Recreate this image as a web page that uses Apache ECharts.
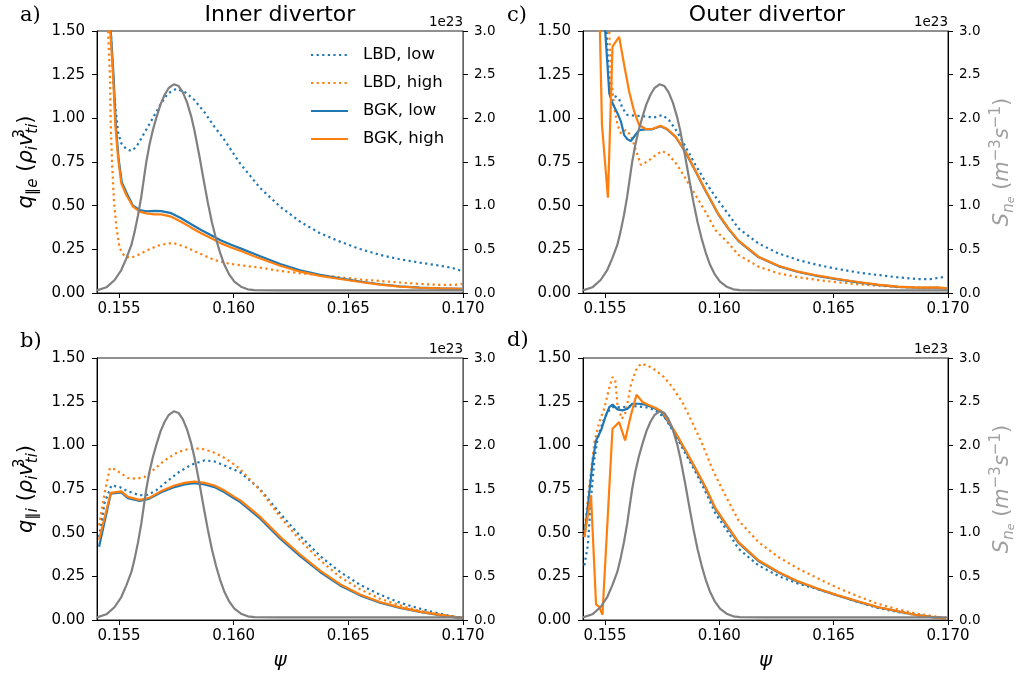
<!DOCTYPE html>
<html>
<head>
<meta charset="utf-8">
<script src="https://cdn.jsdelivr.net/npm/echarts@6/dist/echarts.min.js"></script>
<style>html,body{margin:0;padding:0;background:#fff}#chart{width:1018px;height:679px}</style>
</head>
<body>
<div id="chart"></div>
<script>
// ---------------- data (psi, value) ----------------
const psiRange = [0.15404, 0.170];
const psiTicks = [0.155, 0.160, 0.165, 0.170];
const seriesNames = ['LBD, low', 'LBD, high', 'BGK, low', 'BGK, high'];

// ionisation source S_ne in units of 1e23 m^-3 s^-1 (same in all panels)
const sneScaled = [[0.15404,0.03],[0.15445,0.065],[0.15481,0.149],[0.15510,0.263],[0.15532,0.397],[0.15554,0.55],[0.15568,0.70],[0.15583,0.89],[0.15597,1.10],[0.15609,1.32],[0.15619,1.50],[0.15633,1.70],[0.15648,1.87],[0.15662,2.00],[0.15681,2.16],[0.15699,2.27],[0.15716,2.345],[0.15739,2.39],[0.15760,2.37],[0.15778,2.30],[0.15797,2.18],[0.15815,2.02],[0.15829,1.86],[0.15851,1.56],[0.15870,1.28],[0.15887,1.04],[0.15905,0.81],[0.15923,0.62],[0.15942,0.45],[0.15960,0.32],[0.15981,0.21],[0.16003,0.13],[0.16032,0.072],[0.16061,0.042],[0.16090,0.032],[0.1620,0.03],[0.1700,0.03]];

// a) inner divertor, electron heat flux
const innerE_LBD_low = [[0.1543,2.3],[0.15464,1.50],[0.15470,1.34],[0.15478,1.15],[0.15486,1.04],[0.15496,0.92],[0.15510,0.857],[0.15532,0.824],[0.15554,0.813],[0.15576,0.838],[0.15597,0.885],[0.15626,0.952],[0.15655,1.019],[0.15684,1.086],[0.15713,1.143],[0.15749,1.168],[0.15786,1.152],[0.15829,1.105],[0.15873,1.034],[0.15916,0.952],[0.15960,0.876],[0.16003,0.79],[0.16029,0.74],[0.16075,0.666],[0.16116,0.60],[0.16203,0.494],[0.16290,0.408],[0.16377,0.342],[0.16464,0.294],[0.16551,0.252],[0.16638,0.218],[0.16725,0.193],[0.16812,0.174],[0.16899,0.156],[0.16950,0.145],[0.16995,0.126]];
const innerE_LBD_high = [[0.1542,2.3],[0.15452,1.50],[0.15460,1.25],[0.15464,0.96],[0.15470,0.733],[0.15478,0.523],[0.15489,0.370],[0.15503,0.256],[0.15525,0.208],[0.15554,0.202],[0.15583,0.218],[0.15626,0.246],[0.15670,0.271],[0.15713,0.284],[0.15742,0.284],[0.15786,0.265],[0.15829,0.240],[0.15873,0.214],[0.15916,0.189],[0.15974,0.170],[0.16032,0.158],[0.16116,0.145],[0.16203,0.126],[0.16290,0.113],[0.16377,0.102],[0.16464,0.090],[0.16551,0.078],[0.16638,0.069],[0.16725,0.060],[0.16812,0.052],[0.16899,0.046],[0.16960,0.046],[0.16995,0.052]];
const innerE_BGK_low = [[0.1543,2.3],[0.15464,1.50],[0.15476,1.248],[0.15486,0.962],[0.15498,0.771],[0.15512,0.635],[0.15534,0.57],[0.15561,0.50],[0.15590,0.475],[0.15619,0.468],[0.15655,0.470],[0.15684,0.469],[0.15728,0.457],[0.15771,0.428],[0.15815,0.394],[0.15858,0.361],[0.15902,0.331],[0.15945,0.301],[0.15989,0.276],[0.16032,0.254],[0.16075,0.232],[0.16116,0.210],[0.16203,0.166],[0.16290,0.130],[0.16377,0.104],[0.16464,0.084],[0.16551,0.066],[0.16638,0.050],[0.16725,0.038],[0.16812,0.031],[0.16899,0.026],[0.16995,0.024]];
const innerE_BGK_high = [[0.1543,2.3],[0.15462,1.50],[0.15474,1.248],[0.15484,0.962],[0.15496,0.771],[0.15510,0.628],[0.15532,0.561],[0.15561,0.494],[0.15590,0.466],[0.15619,0.456],[0.15655,0.450],[0.15684,0.450],[0.15728,0.437],[0.15771,0.408],[0.15815,0.374],[0.15858,0.342],[0.15902,0.313],[0.15945,0.284],[0.15989,0.261],[0.16032,0.240],[0.16075,0.218],[0.16116,0.198],[0.16203,0.156],[0.16290,0.122],[0.16377,0.098],[0.16464,0.080],[0.16551,0.063],[0.16638,0.048],[0.16725,0.037],[0.16812,0.030],[0.16899,0.026],[0.16995,0.024]];

// b) inner divertor, ion heat flux
const innerI_LBD_low = [[0.15413,0.475],[0.15438,0.675],[0.15467,0.771],[0.15503,0.761],[0.15539,0.737],[0.15590,0.714],[0.15626,0.717],[0.15662,0.742],[0.15706,0.790],[0.15757,0.843],[0.15815,0.889],[0.15873,0.914],[0.15916,0.908],[0.15960,0.884],[0.16003,0.86],[0.16029,0.845],[0.16060,0.81],[0.16116,0.748],[0.16203,0.609],[0.16290,0.481],[0.16377,0.366],[0.16464,0.275],[0.16551,0.202],[0.16638,0.145],[0.16725,0.099],[0.16812,0.065],[0.16899,0.036],[0.16995,0.011]];
const innerI_LBD_high = [[0.15413,0.542],[0.15438,0.731],[0.15460,0.870],[0.15481,0.863],[0.15510,0.838],[0.15539,0.813],[0.15576,0.809],[0.15612,0.819],[0.15648,0.857],[0.15699,0.914],[0.15757,0.962],[0.15807,0.981],[0.15858,0.981],[0.15909,0.962],[0.15960,0.928],[0.16003,0.89],[0.16029,0.862],[0.16060,0.82],[0.16116,0.742],[0.16203,0.590],[0.16290,0.456],[0.16377,0.342],[0.16464,0.246],[0.16551,0.176],[0.16638,0.122],[0.16725,0.084],[0.16812,0.052],[0.16899,0.031],[0.16995,0.011]];
const innerI_BGK_low = [[0.15413,0.42],[0.15464,0.723],[0.15510,0.731],[0.15539,0.698],[0.15590,0.681],[0.15633,0.695],[0.15684,0.731],[0.15742,0.761],[0.15786,0.776],[0.15829,0.784],[0.15873,0.776],[0.15916,0.761],[0.15960,0.731],[0.16003,0.695],[0.16029,0.675],[0.16116,0.580],[0.16203,0.466],[0.16290,0.366],[0.16377,0.275],[0.16464,0.198],[0.16551,0.141],[0.16638,0.099],[0.16725,0.069],[0.16812,0.046],[0.16899,0.027],[0.16995,0.011]];
const innerI_BGK_high = [[0.15413,0.46],[0.15464,0.728],[0.15510,0.736],[0.15539,0.705],[0.15590,0.688],[0.15633,0.700],[0.15684,0.738],[0.15742,0.770],[0.15786,0.785],[0.15829,0.792],[0.15873,0.785],[0.15916,0.770],[0.15960,0.741],[0.16003,0.705],[0.16029,0.685],[0.16116,0.590],[0.16203,0.476],[0.16290,0.375],[0.16377,0.283],[0.16464,0.205],[0.16551,0.146],[0.16638,0.103],[0.16725,0.072],[0.16812,0.048],[0.16899,0.029],[0.16995,0.012]];

// c) outer divertor, electron heat flux
const outerE_LBD_low = [[0.15500,2.2],[0.15507,1.50],[0.15516,1.248],[0.15526,1.133],[0.15548,1.124],[0.15562,1.110],[0.15577,1.057],[0.15598,1.019],[0.15635,1.015],[0.15678,1.011],[0.15714,1.004],[0.15751,1.019],[0.15780,0.990],[0.15816,0.923],[0.15852,0.838],[0.15896,0.733],[0.15939,0.637],[0.15983,0.551],[0.16040,0.45],[0.16084,0.370],[0.16171,0.284],[0.16258,0.227],[0.16345,0.189],[0.16432,0.160],[0.16519,0.137],[0.16606,0.118],[0.16693,0.103],[0.16780,0.090],[0.16867,0.080],[0.16924,0.080],[0.16990,0.093]];
const outerE_LBD_high = [[0.15512,2.2],[0.15519,1.487],[0.15526,1.248],[0.15541,1.057],[0.15555,0.962],[0.15570,0.914],[0.15591,0.933],[0.15613,0.904],[0.15635,0.819],[0.15657,0.733],[0.15685,0.752],[0.15722,0.790],[0.15751,0.813],[0.15780,0.790],[0.15816,0.733],[0.15852,0.656],[0.15896,0.561],[0.15939,0.466],[0.15983,0.36],[0.16040,0.285],[0.16084,0.218],[0.16171,0.151],[0.16258,0.113],[0.16345,0.090],[0.16432,0.074],[0.16519,0.061],[0.16606,0.050],[0.16693,0.042],[0.16780,0.034],[0.16867,0.031],[0.16990,0.027]];
const outerE_BGK_low = [[0.15490,2.4],[0.15501,1.50],[0.15512,1.286],[0.15519,1.143],[0.15533,1.086],[0.15555,1.028],[0.15570,0.981],[0.15584,0.904],[0.15598,0.881],[0.15613,0.870],[0.15628,0.896],[0.15649,0.933],[0.15678,0.937],[0.15707,0.937],[0.15743,0.955],[0.15772,0.937],[0.15809,0.893],[0.15852,0.806],[0.15896,0.697],[0.15939,0.587],[0.15968,0.517],[0.15997,0.447],[0.16040,0.367],[0.16084,0.297],[0.16171,0.206],[0.16258,0.154],[0.16345,0.120],[0.16432,0.097],[0.16519,0.078],[0.16606,0.061],[0.16693,0.046],[0.16780,0.035],[0.16867,0.030],[0.16954,0.030],[0.16995,0.026]];
const outerE_BGK_high = [[0.15470,2.6],[0.15478,1.50],[0.15487,0.962],[0.15513,0.546],[0.15533,1.410],[0.15562,1.467],[0.15584,1.305],[0.15606,1.152],[0.15628,1.038],[0.15649,0.962],[0.15678,0.939],[0.15707,0.939],[0.15743,0.958],[0.15772,0.939],[0.15809,0.895],[0.15852,0.81],[0.15896,0.70],[0.15939,0.59],[0.15968,0.52],[0.15997,0.45],[0.16040,0.37],[0.16084,0.30],[0.16171,0.208],[0.16258,0.156],[0.16345,0.122],[0.16432,0.099],[0.16519,0.080],[0.16606,0.063],[0.16693,0.048],[0.16780,0.036],[0.16867,0.031],[0.16954,0.032],[0.16995,0.027]];

// d) outer divertor, ion heat flux
const outerI_LBD_low = [[0.15410,0.313],[0.15425,0.427],[0.15439,0.694],[0.15454,0.923],[0.15468,1.038],[0.15490,1.133],[0.15512,1.191],[0.15533,1.219],[0.15577,1.219],[0.15620,1.225],[0.15678,1.219],[0.15722,1.200],[0.15765,1.152],[0.15809,1.057],[0.15852,0.952],[0.15896,0.847],[0.15939,0.735],[0.15983,0.61],[0.16040,0.50],[0.16084,0.408],[0.16171,0.313],[0.16258,0.252],[0.16345,0.208],[0.16432,0.176],[0.16519,0.141],[0.16606,0.103],[0.16693,0.069],[0.16780,0.046],[0.16867,0.027],[0.16990,0.008]];
const outerI_LBD_high = [[0.15410,0.504],[0.15432,0.771],[0.15454,1.019],[0.15475,1.133],[0.15497,1.210],[0.15516,1.315],[0.15533,1.391],[0.15545,1.372],[0.15555,1.229],[0.15574,1.152],[0.15591,1.191],[0.15613,1.343],[0.15635,1.429],[0.15657,1.467],[0.15685,1.458],[0.15722,1.429],[0.15758,1.391],[0.15794,1.334],[0.15838,1.248],[0.15881,1.133],[0.15925,1.009],[0.15968,0.87],[0.15997,0.79],[0.16040,0.68],[0.16084,0.57],[0.16171,0.446],[0.16258,0.361],[0.16345,0.294],[0.16432,0.237],[0.16519,0.183],[0.16606,0.136],[0.16693,0.093],[0.16780,0.061],[0.16867,0.036],[0.16990,0.011]];
const outerI_BGK_low = [[0.15410,0.475],[0.15432,0.733],[0.15446,0.904],[0.15461,1.028],[0.15483,1.086],[0.15504,1.171],[0.15519,1.219],[0.15533,1.233],[0.15555,1.206],[0.15577,1.200],[0.15599,1.21],[0.15620,1.238],[0.15649,1.238],[0.15678,1.233],[0.15714,1.214],[0.15743,1.197],[0.15772,1.143],[0.15809,1.067],[0.15852,0.968],[0.15896,0.863],[0.15939,0.758],[0.15983,0.635],[0.16040,0.525],[0.16084,0.441],[0.16171,0.338],[0.16258,0.272],[0.16345,0.218],[0.16432,0.177],[0.16519,0.139],[0.16606,0.105],[0.16693,0.073],[0.16780,0.049],[0.16867,0.027],[0.16990,0.008]];
const outerI_BGK_high = [[0.15410,0.475],[0.15425,0.599],[0.15439,0.714],[0.15461,0.09],[0.15475,0.075],[0.15489,0.03],[0.15533,1.095],[0.15562,1.133],[0.15588,1.028],[0.15613,1.171],[0.15638,1.290],[0.15664,1.248],[0.15693,1.229],[0.15722,1.214],[0.15751,1.191],[0.15772,1.15],[0.15809,1.072],[0.15852,0.973],[0.15896,0.868],[0.15939,0.763],[0.15983,0.64],[0.16040,0.53],[0.16084,0.446],[0.16171,0.342],[0.16258,0.275],[0.16345,0.221],[0.16432,0.179],[0.16519,0.141],[0.16606,0.107],[0.16693,0.074],[0.16780,0.050],[0.16867,0.027],[0.16990,0.008]];

// ---------------- layout / style ----------------
const F = 'DejaVu Sans';
const BLUE = '#1f77b4', ORANGE = '#ff7f0e', GREY = '#808080';
const DOT = [2.2, 3.4];

function mathRich(color) {
  return {
    n:   {fontSize: 21, fontFamily: F, color, lineHeight: 28},
    it:  {fontSize: 21, fontFamily: F, fontStyle: 'italic', color, lineHeight: 28},
    sub: {fontSize: 15, fontFamily: F, fontStyle: 'italic', color, lineHeight: 16, verticalAlign: 'bottom'},
    subn:{fontSize: 15, fontFamily: F, color, lineHeight: 16, verticalAlign: 'bottom'},
    sub2:{fontSize: 11, fontFamily: F, fontStyle: 'italic', color, lineHeight: 9, verticalAlign: 'bottom'},
    sup0:{fontSize: 15, fontFamily: F, color, lineHeight: 16, verticalAlign: 'top', width: 0},
    sup: {fontSize: 15, fontFamily: F, color, lineHeight: 16, verticalAlign: 'top'}
  };
}
const qeName = '{it|q}{subn|∥}{sub|e}{n| (}{it|ρ}{sub|i}{it|v}{sup0|3}{sub|ti}{n|)}';
const qiName = '{it|q}{subn|∥}{sub|i}{n| (}{it|ρ}{sub|i}{it|v}{sup0|3}{sub|ti}{n|)}';
const sName  = '{it|S}{sub|n}{sub2|e}{n| (}{it|m}{sup|−3}{it|s}{sup|−1}{n|)}';

const panels = [
  {grid: {left: 97, top: 31, width: 366, height: 262}, data: [innerE_LBD_low, innerE_LBD_high, innerE_BGK_low, innerE_BGK_high], yName: qeName, xName: false, sLabel: false, rightColor: '#666'},
  {grid: {left: 97, top: 358, width: 366, height: 262}, data: [innerI_LBD_low, innerI_LBD_high, innerI_BGK_low, innerI_BGK_high], yName: qiName, xName: true, sLabel: false, rightColor: '#666'},
  {grid: {left: 583, top: 31, width: 368, height: 262}, data: [outerE_LBD_low, outerE_LBD_high, outerE_BGK_low, outerE_BGK_high], yName: '', xName: false, sLabel: true, rightColor: '#000'},
  {grid: {left: 583, top: 358, width: 368, height: 262}, data: [outerI_LBD_low, outerI_LBD_high, outerI_BGK_low, outerI_BGK_high], yName: '', xName: true, sLabel: true, rightColor: '#000'}
];

const grid = [], xAxis = [], yAxis = [], series = [];
const styles = [
  {color: BLUE, dotted: true}, {color: ORANGE, dotted: true},
  {color: BLUE, dotted: false}, {color: ORANGE, dotted: false}
];

panels.forEach((p, gi) => {
  grid.push(Object.assign({show: true, borderColor: '#222', borderWidth: 1, backgroundColor: 'transparent'}, p.grid));
  xAxis.push({
    type: 'value', gridIndex: gi, min: psiRange[0], max: psiRange[1],
    axisLine: {show: true, onZero: false, lineStyle: {color: '#000', width: 1}},
    axisTick: {show: true, length: 5, customValues: psiTicks, lineStyle: {color: '#000'}},
    axisLabel: {customValues: psiTicks, formatter: v => v.toFixed(3), fontSize: 15, fontFamily: F, color: '#000', margin: 9},
    splitLine: {show: false},
    name: p.xName ? 'ψ' : '', nameLocation: 'middle', nameGap: 31,
    nameTextStyle: {fontSize: 20, fontStyle: 'italic', fontFamily: F, color: '#000'}
  });
  const yl = yAxis.length;
  yAxis.push({
    type: 'value', gridIndex: gi, position: 'left', min: 0, max: 1.5, interval: 0.25,
    axisLine: {show: true, onZero: false, lineStyle: {color: '#000', width: 1}},
    axisTick: {show: true, length: 5, lineStyle: {color: '#000'}},
    axisLabel: {formatter: v => v.toFixed(2), fontSize: 15, fontFamily: F, color: '#000', margin: 12},
    splitLine: {show: false},
    name: p.yName, nameLocation: 'middle', nameGap: 56, nameRotate: 90,
    nameTextStyle: {rich: mathRich('#000')}
  });
  const yr = yAxis.length;
  yAxis.push({
    type: 'value', gridIndex: gi, position: 'right', min: 0, max: 3, interval: 0.5,
    axisLine: {show: true, onZero: false, lineStyle: {color: p.rightColor, width: 1}},
    axisTick: {show: true, length: 5, lineStyle: {color: '#000'}},
    axisLabel: {formatter: v => v.toFixed(1), fontSize: 13.5, fontFamily: F, color: '#000', margin: 11},
    splitLine: {show: false},
    name: '1e23', nameLocation: 'end', nameGap: 2,
    nameTextStyle: {align: 'right', verticalAlign: 'bottom', fontSize: 13.5, fontFamily: F, color: '#000'}
  });
  if (p.sLabel) {
    yAxis.push({
      type: 'value', gridIndex: gi, position: 'right', min: 0, max: 3,
      axisLine: {show: false}, axisTick: {show: false}, axisLabel: {show: false}, splitLine: {show: false},
      name: sName, nameLocation: 'middle', nameGap: 41, nameRotate: 90,
      nameTextStyle: {rich: mathRich('#a0a0a0')}
    });
  }
  p.data.forEach((d, k) => {
    series.push({
      name: seriesNames[k], type: 'line', xAxisIndex: gi, yAxisIndex: yl, data: d,
      symbol: 'none', clip: true, z: 2 + k,
      lineStyle: {color: styles[k].color, width: 2.2, type: styles[k].dotted ? DOT : 'solid', cap: 'butt'},
      itemStyle: {color: styles[k].color}
    });
  });
  series.push({
    name: 'S_ne', type: 'line', xAxisIndex: gi, yAxisIndex: yr, data: sneScaled,
    symbol: 'none', clip: true, z: 8,
    lineStyle: {color: GREY, width: 2.2}, itemStyle: {color: GREY}
  });
});

const txt = (text, x, y, font, align) => ({
  type: 'text', x, y, silent: true,
  style: {text, font, fill: '#000', align: align || 'center', verticalAlign: 'middle'}
});

const option = {
  animation: false,
  backgroundColor: '#fff',
  grid, xAxis, yAxis, series,
  legend: {
    data: seriesNames, orient: 'vertical', left: 310, top: 45, padding: 0,
    itemWidth: 37, itemHeight: 20, itemGap: 8,
    itemStyle: {opacity: 0},
    textStyle: {fontSize: 16.5, fontFamily: F, color: '#000', lineHeight: 20, padding: [0, 0, 0, 10]},
    selectedMode: false
  },
  graphic: [
    txt('Inner divertor', 280, 15, '22px "DejaVu Sans"'),
    txt('Outer divertor', 767, 15, '22px "DejaVu Sans"'),
    txt('a)', 20, 16, '21px "DejaVu Serif"', 'left'),
    txt('b)', 20, 342, '21px "DejaVu Serif"', 'left'),
    txt('c)', 507, 16, '21px "DejaVu Serif"', 'left'),
    txt('d)', 507, 341, '21px "DejaVu Serif"', 'left')
  ]
};

const chart = echarts.init(document.getElementById('chart'), null, {renderer: 'canvas'});
chart.setOption(option);
</script>
</body>
</html>
